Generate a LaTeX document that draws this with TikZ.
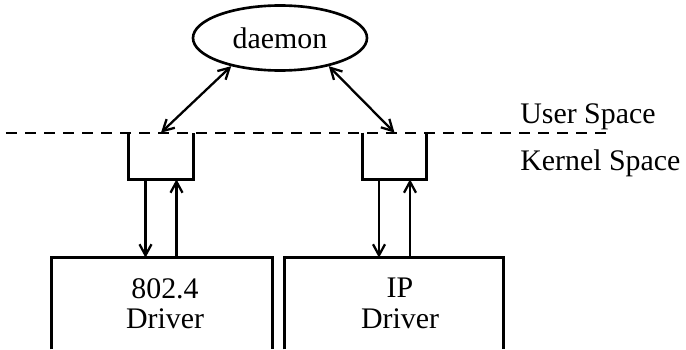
\documentclass[tikz,border=0pt]{standalone}
\usepackage{fontspec}
\setmainfont{Liberation Serif}
\usetikzlibrary{arrows.meta,shapes.geometric}
\tikzset{
	wire/.style={line width=1.3pt, {Straight Barb[length=2.2mm,width=2.4mm]}-{Straight Barb[length=2.2mm,width=2.4mm]}},
	link/.style={line width=1.3pt, -{Straight Barb[length=2.2mm,width=2.4mm]}},
	sockbox/.style={minimum width=1.28cm, minimum height=0.92cm, inner sep=0pt},
	drvbox/.style={minimum width=4.4cm, minimum height=1.82cm, inner sep=0pt},
	lbl/.style={font=\fontsize{17}{18.5}\selectfont, inner sep=0pt}
}
\begin{document}
\begin{tikzpicture}
				\useasboundingbox (0,0) rectangle (13.72,6.98);
				\node[lbl, ellipse, draw, line width=1.5pt, minimum width=3.48cm, minimum height=1.3cm] (daemon) at (5.6,6.22) {daemon};
				\draw[line width=1.5pt, dash pattern=on 0.22cm off 0.16cm] (0.12,4.32) -- (12.2,4.32);
				\node[lbl, anchor=base west] (user) at (10.4,4.52) {User Space};
				\node[lbl, anchor=base west] (kernel) at (10.4,3.58) {Kernel Space};
				\node[sockbox] (sockL) at (3.22,3.86) {};
				\node[sockbox] (sockR) at (7.89,3.86) {};
				\node[drvbox, minimum width=4.4cm] (drvL) at (3.24,0.91) {};
				\node[drvbox, minimum width=4.36cm] (drvR) at (7.88,0.91) {};
				\node[lbl, align=center, anchor=north] (txtL) at (3.3,1.42) {802.4\\[-1pt]Driver};
				\node[lbl, align=center, anchor=north] (txtR) at (8.0,1.42) {IP\\[-1pt]Driver};
				\foreach \s/\d in {sockL/drvL,sockR/drvR}
				{
					\draw[line width=1.7pt] (\s.north west) |- (\s.south east) -- (\s.north east);
					\draw[line width=1.7pt] (\d.south west) |- (\d.north east) -- (\d.south east);
					\draw[link] ([xshift=-0.31cm]\s.south) -- ([xshift=-0.31cm]\s.south |- \d.north);
					\draw[link] ([xshift=0.31cm]\s.south |- \d.north) -- ([xshift=0.31cm]\s.south);
				}
				\draw[wire] (sockL.north) -- (daemon.210);
				\draw[wire] (sockR.north) -- (daemon.330);
			\end{tikzpicture}
\end{document}
